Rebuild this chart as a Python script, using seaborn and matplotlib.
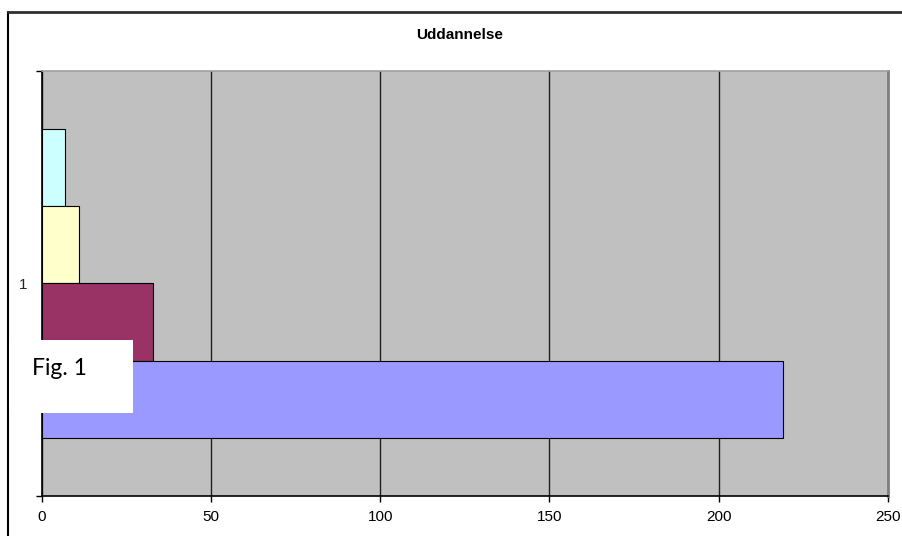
import matplotlib
matplotlib.use("Agg")
import matplotlib.pyplot as plt
from matplotlib.lines import Line2D
from matplotlib.patches import Rectangle
import seaborn as sns
import pandas as pd

# Data
categories = ["1"]
series = ["Serie1", "Serie2", "Serie3", "Serie4"]
values = [219, 33, 11, 7]
colors = ["#9999FF", "#993366", "#FFFFCC", "#CCFFFF"]
x_ticks = [0, 50, 100, 150, 200, 250]
title = "Uddannelse"
caption = "Fig. 1"

df = pd.DataFrame({
    "category": categories * len(series),
    "series": series,
    "value": values,
})

sns.set_theme(style="white")
plt.rcParams["font.family"] = ["Liberation Sans", "DejaVu Sans"]

W, H = 903, 536
fig = plt.figure(figsize=(W / 100, H / 100), dpi=100)
fig.patch.set_facecolor("white")

# plot area in pixel coordinates
left, right, top, bottom = 41.7, 888, 70.5, 496
ax = fig.add_axes([left / W, 1 - bottom / H, (right - left) / W, (bottom - top) / H])
ax.set_facecolor("#C0C0C0")

# first series drawn at the bottom of the group, so hue order is reversed
order = series[::-1]
palette = dict(zip(series, colors))
sns.barplot(
    data=df, x="value", y="category", hue="series", hue_order=order,
    palette=palette, orient="h", width=0.727, dodge=True,
    edgecolor="black", linewidth=0.8, saturation=1, legend=False, ax=ax,
)

ax.set_xlim(0, 250)
ax.set_ylim(0.5, -0.5)
ax.set_xticks(x_ticks)
ax.set_xticklabels([str(t) for t in x_ticks], fontsize=11)
ax.xaxis.grid(True, color="#202020", linewidth=1.0)
ax.set_axisbelow(True)
ax.set_xlabel("")
ax.set_ylabel("")

# category label in the middle, tick marks at the category boundaries
ax.set_yticks([0])
ax.set_yticklabels(categories, fontsize=11)
ax.set_yticks([-0.5, 0.5], minor=True)
ax.tick_params(axis="y", which="major", length=0, pad=10)
ax.tick_params(axis="y", which="minor", left=True, length=4, width=1, color="black", direction="out")
ax.tick_params(axis="x", which="major", bottom=True, length=4, width=1, color="black",
               direction="out", pad=6, labelcolor="black")

for side, col, lw in [("left", "black", 1.2), ("bottom", "black", 1.2),
                      ("top", "#A0A0A0", 1.2), ("right", "#808080", 2.0)]:
    ax.spines[side].set_visible(True)
    ax.spines[side].set_color(col)
    ax.spines[side].set_linewidth(lw)

fig.text(460 / W, 1 - 35 / H, title, ha="center", va="center",
         fontsize=11, fontweight="bold", color="black")

# chart frame
fig.add_artist(Line2D([8 / W, 8 / W], [0, 1 - 12 / H], transform=fig.transFigure,
                      color="black", linewidth=1.5))
fig.add_artist(Line2D([8 / W, 1], [1 - 12 / H, 1 - 12 / H], transform=fig.transFigure,
                      color="#303030", linewidth=2.0))

# caption box
fig.add_artist(Rectangle((9 / W, 1 - 413 / H), 124 / W, 73 / H, transform=fig.transFigure,
                         facecolor="white", edgecolor="none", zorder=10))
fig.text(32 / W, 1 - 375 / H, caption, ha="left", va="baseline", fontsize=16.5,
         family=["Lato", "DejaVu Sans"], color="black", zorder=11)

fig.savefig("out.png", dpi=100)
